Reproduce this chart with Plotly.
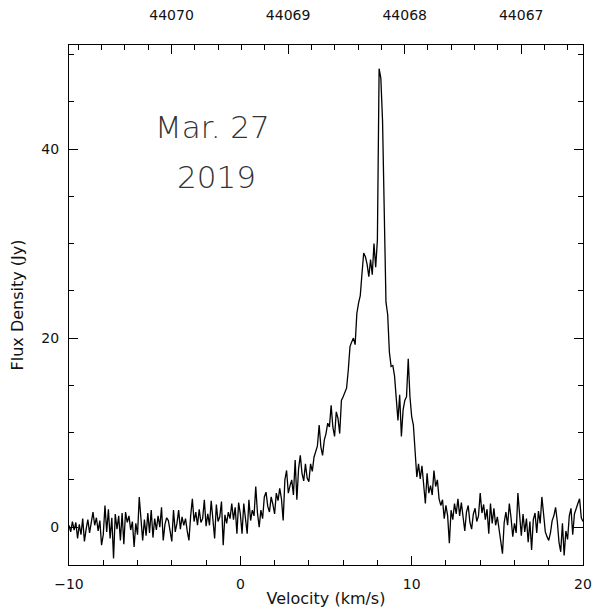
import numpy as np
import plotly.graph_objects as go

# Velocity channel grid (km/s)
V_START = -10.0
V_STEP = 0.1

# Flux density (Jy) per channel
FLUX = [
    # -10.0 .. -4.0
    0.2, -0.5, 0.6, -0.3, 0.5, -1.2, 0.3, -0.8, 0.9, -1.5,
    -0.2, 0.8, -0.6, 0.4, 1.6, 0.2, 1.0, -0.4, 0.7, -1.9,
    -0.8, 2.3, -0.5, 1.9, -1.2, 1.0, -3.3, 1.4, -0.2, 1.2,
    -1.4, 1.5, -1.8, 1.6, 0.5, 1.2, -0.3, 0.6, -2.1, 0.4,
    -0.8, 3.2, 0.3, -1.4, 0.8, -0.9, 1.5, -0.6, 1.8, -1.1,
    0.9, -0.3, 1.2, 0.0, 2.1, -1.4, 0.3, 1.0, 0.7, -0.6,
    -1.5,
    # -3.9 .. 0.0
    1.8, -0.5, 0.4, 1.8, -0.2, 1.1, 0.2, 0.9, -0.4, -1.4,
    1.2, 3.0, 0.6, 1.6, 0.2, 1.9, 0.5, 0.9, 2.9, 0.1,
    1.4, 0.2, 2.8, 0.7, -1.2, 2.4, 0.6, 1.1, 2.7, -1.9,
    1.3, 0.4, 1.6, 0.9, 2.5, 0.8, 2.1, -0.7, 2.6, 1.4,
    # 0.1 .. 2.0
    -0.7, 2.5, 0.6, -0.7, 2.9, 0.7, 1.8, 1.2, 4.3, 1.5,
    0.0, 1.8, 0.9, 3.2, 3.7, 2.2, 1.6, 3.2, 2.4, 1.4,
    # 2.1 .. 4.0
    3.6, 2.8, 4.1, 3.0, 0.7, 5.0, 6.0, 3.6, 4.4, 5.0,
    3.4, 7.1, 2.9, 6.2, 7.6, 5.7, 4.9, 6.7, 5.2, 4.8,
    # 4.1 .. 6.0
    6.7, 5.9, 7.4, 8.1, 8.6, 10.8, 8.5, 7.6, 9.2, 9.9,
    11.0, 10.6, 12.9, 10.6, 9.6, 12.2, 11.5, 9.9, 13.4, 13.8,
    # 6.1 .. 8.0
    14.2, 14.7, 16.6, 19.1, 19.6, 20.0, 19.3, 22.6, 23.7, 24.5,
    26.8, 29.0, 28.6, 27.8, 26.5, 28.3, 26.7, 30.0, 27.5, 30.4,
    # 8.1 .. 10.0
    48.5, 47.5, 43.0, 31.0, 23.8, 22.5, 18.5, 17.0, 17.1, 16.0,
    13.2, 11.3, 14.0, 9.6, 12.4, 13.4, 13.8, 17.8, 13.8, 11.7,
    # 10.1 .. 12.0
    10.8, 8.5, 5.3, 6.7, 5.1, 6.5, 4.3, 2.5, 5.7, 3.6,
    4.4, 3.4, 6.0, 4.3, 5.0, 3.0, 2.3, 2.9, 0.9, 2.3,
    # 12.1 .. 14.0
    1.2, -1.7, 1.8, 0.8, 2.5, 1.4, 3.0, 1.2, 2.6, 0.9,
    -0.4, 1.6, 2.3, 0.5, -0.2, 1.4, 2.0, 0.6, 1.2, 3.6,
    # 14.1 .. 16.0
    1.5, 2.4, 0.8, 1.9, -0.7, 2.5, 0.4, 2.0, 0.2, 1.1,
    -0.3, -1.7, -2.8, 0.5, 1.6, 0.2, 2.5, 1.0, -1.0, 0.4,
    # 16.1 .. 18.0
    -0.6, 3.6, 1.1, -0.9, 1.4, -0.5, 0.9, -1.6, 0.6, -2.4,
    0.8, 1.5, -0.6, 1.7, 0.4, 3.2, 1.4, -0.5, -1.0, -1.4,
    # 18.1 .. 20.0
    -0.6, 0.7, 1.2, 2.1, 0.6, -1.6, -2.6, 0.4, -3.0, -0.4,
    -1.3, 1.2, 2.0, -0.8, 1.4, 2.1, 2.5, 3.0, 1.0, 0.6,
]

# Axis ranges and labels
V_RANGE = [-10, 20]
F_RANGE = [-4.0, 51.0]
FREQ_RANGE = [44070.880, 44066.470]   # top axis (MHz), matching V_RANGE
FREQ_TICKS = [44070, 44069, 44068, 44067]
DATE_LINES = ["Mar. 27", "2019"]

velocity = V_START + V_STEP * np.arange(len(FLUX))

FONT = "DejaVu Sans"
TXT = "#111111"

fig = go.Figure()
fig.add_trace(go.Scatter(
    x=velocity, y=FLUX, mode="lines",
    line=dict(color="black", width=1.3),
    showlegend=False, hoverinfo="skip",
))
# invisible trace to activate the top frequency axis
fig.add_trace(go.Scatter(
    x=FREQ_RANGE, y=[None, None], xaxis="x2", mode="lines",
    showlegend=False, hoverinfo="skip",
))

fig.add_annotation(x=-1.6, y=42.3, xref="x", yref="y", text=DATE_LINES[0],
                   showarrow=False,
                   font=dict(family=FONT, size=31, color="#333333", weight=300))
fig.add_annotation(x=-1.4, y=37.0, xref="x", yref="y", text=DATE_LINES[1],
                   showarrow=False,
                   font=dict(family=FONT, size=31, color="#333333", weight=300))

common = dict(ticks="inside", ticklen=9, tickcolor="black", tickwidth=1,
              showline=True, linecolor="black", linewidth=1,
              showgrid=False, zeroline=False, automargin=False,
              tickfont=dict(family=FONT, size=14, color=TXT))

# The page body adds an 8 px offset at left/top, so the figure is 8 px smaller.
fig.update_layout(
    width=592, height=602,
    margin=dict(l=61, r=17, t=37, b=45),
    paper_bgcolor="white", plot_bgcolor="white",
    font=dict(family=FONT, size=14, color=TXT),
    xaxis=dict(
        range=V_RANGE, tickvals=[-10, 0, 10, 20], mirror=True,
        minor=dict(dtick=2, tick0=0, ticks="inside", ticklen=5, tickcolor="black"),
        ticklabelstandoff=6,
        title=dict(text="Velocity (km/s)",
                   font=dict(family=FONT, size=16, color=TXT), standoff=2),
        **common,
    ),
    xaxis2=dict(
        overlaying="x", side="top", anchor="y", range=FREQ_RANGE,
        tickvals=FREQ_TICKS, tickformat="d",
        minor=dict(dtick=0.2, tick0=44067, ticks="inside", ticklen=5, tickcolor="black"),
        ticklabelstandoff=18,
        **common,
    ),
    yaxis=dict(
        range=F_RANGE, tickvals=[0, 20, 40], mirror="ticks",
        minor=dict(dtick=5, tick0=0, ticks="inside", ticklen=5, tickcolor="black"),
        ticklabelstandoff=6,
        title=dict(text="Flux Density (Jy)",
                   font=dict(family=FONT, size=16, color=TXT), standoff=14),
        **common,
    ),
)

fig.write_html("out.html")
